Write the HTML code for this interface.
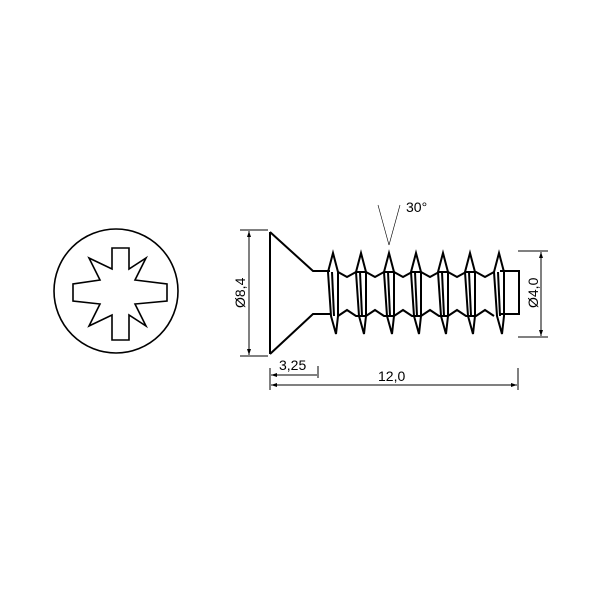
<!DOCTYPE html>
<html><head><style>body{margin:0;background:#fff}svg{display:block}text{font-family:"Liberation Sans",sans-serif;font-size:14px;fill:#000}</style></head>
<body>
<svg width="600" height="600" viewBox="0 0 600 600" xmlns="http://www.w3.org/2000/svg">
<rect width="600" height="600" fill="#fff"/>
<g fill="none" stroke="#000" stroke-width="1.6">
<circle cx="116" cy="291" r="62"/>
<polygon points="112,248 129,248 129,269 146,258 135,280 167,284 167,301 135,304 146,326 129,315 129,340 112,340 112,315 89,326 100,304 73,301 73,284 100,280 89,258 112,269" stroke-linejoin="miter"/>
</g>
<g fill="none" stroke="#000" stroke-width="2">
<polyline points="270,232 270,354"/>
<polyline points="270,232 313,271 330,271"/>
<polyline points="270,354 313,314 330,314"/>
<polyline points="500,271 519,271 519,314 500,314"/>
<g id="th">
<polygon points="333,253 338,272 338,316 336,334 331,316 328,272"/>
<line x1="332" y1="272" x2="334" y2="316"/>
</g>
<use href="#th" x="28"/><use href="#th" x="56"/><use href="#th" x="83"/><use href="#th" x="110"/><use href="#th" x="137"/><use href="#th" x="166"/>
<polyline points="338,272 347,277 356,272 366,272 375,277 384,272 394,272 403,277 412,272 421,272 430,277 439,272 448,272 457,277 466,272 476,272 485,277 494,272"/>
<polyline points="338,316 347,310 356,316 366,316 375,310 384,316 394,316 403,310 412,316 421,316 430,310 439,316 448,316 457,310 466,316 476,316 485,310 494,316"/>
</g>
<g stroke="#000" stroke-width="1" fill="none">
<line x1="240" y1="230" x2="268" y2="230"/><line x1="240" y1="356" x2="268" y2="356"/>
<line x1="249" y1="231" x2="249" y2="355"/>
<line x1="518" y1="251" x2="548" y2="251"/><line x1="518" y1="337" x2="548" y2="337"/>
<line x1="541" y1="252" x2="541" y2="336"/>
<line x1="270" y1="368" x2="270" y2="390"/><line x1="318" y1="366" x2="318" y2="378"/><line x1="518" y1="368" x2="518" y2="390"/>
<line x1="271" y1="375" x2="317" y2="375"/>
<line x1="271" y1="385" x2="517" y2="385"/>
<line x1="378" y1="205" x2="389" y2="245" stroke-width="0.6"/><line x1="400" y1="205" x2="389" y2="245" stroke-width="0.6"/>
</g>
<g fill="#000">
<polygon points="249,231 247,237 251,237"/><polygon points="249,355 247,349 251,349"/>
<polygon points="541,252 539,258 543,258"/><polygon points="541,336 539,330 543,330"/>
<polygon points="271,375 277,373 277,377"/><polygon points="271,385 277,383 277,387"/><polygon points="517,385 511,383 511,387"/>
</g>
<text x="406" y="212">30°</text>
<text x="279" y="370">3,25</text>
<text x="378" y="381">12,0</text>
<text transform="translate(245,308) rotate(-90)">Ø8,4</text>
<text transform="translate(538,308) rotate(-90)">Ø4,0</text>
</svg>
</body></html>
